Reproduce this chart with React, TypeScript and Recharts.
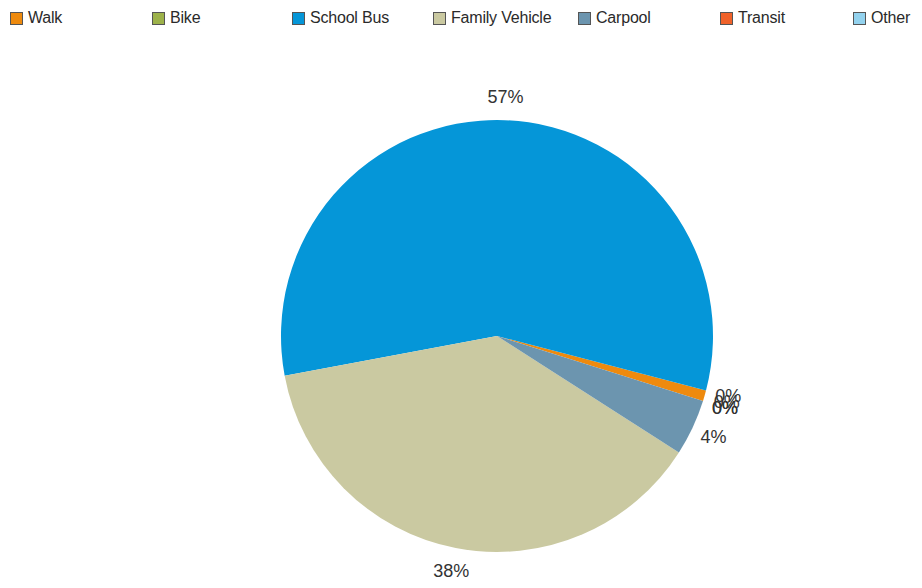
import { PieChart, Pie, Cell } from "recharts";

const modes = ["Walk", "Bike", "School Bus", "Family Vehicle", "Carpool", "Transit", "Other"];
const shares = [0.8, 0, 57.0, 38.0, 4.2, 0, 0];
const colors = ["#EE8A0E", "#9DB24A", "#0596D8", "#CAC9A1", "#6C95AF", "#F0622A", "#93D2EE"];
const legendX = [2, 144, 284, 425, 570, 712, 845];

const data = modes.map((name, i) => ({ name, value: shares[i] }));
const total = shares.reduce((a, b) => a + b, 0);
const RAD = Math.PI / 180;

const renderLabel = (props: any) => {
  const { cx, cy, midAngle, outerRadius, value } = props;
  const r = outerRadius + 23;
  const x = cx + r * Math.cos(-midAngle * RAD);
  const y = cy + r * Math.sin(-midAngle * RAD);
  const pct = Math.floor((value / total) * 100 + 1e-6);
  return (
    <text
      x={x}
      y={y}
      textAnchor="middle"
      dominantBaseline="central"
      fill="#333"
      fontSize={18}
      fontFamily="'Liberation Sans', Arial, sans-serif"
    >
      {pct}%
    </text>
  );
};

export default function App() {
  return (
    <div style={{ position: "relative", width: 906, height: 572, fontFamily: "'Liberation Sans', Arial, sans-serif" }}>
      {/* legend row */}
      {modes.map((m, i) => (
        <div
          key={m}
          style={{
            position: "absolute",
            left: legendX[i],
            top: 1,
            height: 18,
            display: "flex",
            alignItems: "center",
            fontSize: 16,
            letterSpacing: -0.2,
            color: "#2a2a2a",
            whiteSpace: "nowrap",
          }}
        >
          <span
            style={{
              display: "inline-block",
              width: 11,
              height: 11,
              background: colors[i],
              border: "1px solid #555",
              marginRight: 5,
            }}
          />
          {m}
        </div>
      ))}
      <PieChart width={906} height={572} margin={{ top: 0, right: 0, bottom: 0, left: 0 }}>
        <Pie
          data={data}
          dataKey="value"
          nameKey="name"
          cx={489}
          cy={328}
          outerRadius={216}
          startAngle={-17.5}
          endAngle={342.5}
          stroke="none"
          label={renderLabel}
          labelLine={false}
          isAnimationActive={false}
        >
          {data.map((d, i) => (
            <Cell key={d.name} fill={colors[i]} />
          ))}
        </Pie>
      </PieChart>
    </div>
  );
}
